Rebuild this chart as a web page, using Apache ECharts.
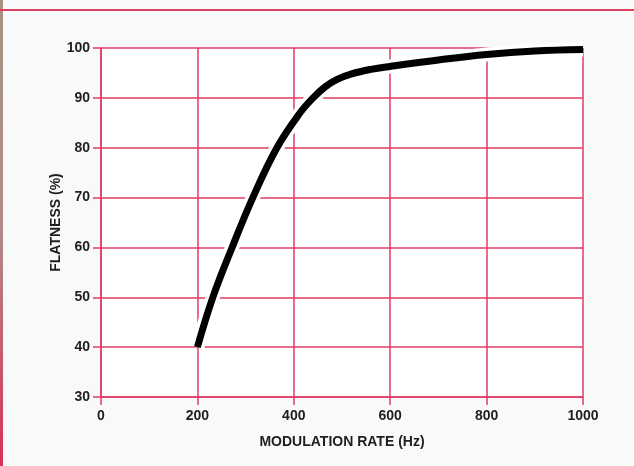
<!DOCTYPE html>
<html>
<head>
<meta charset="utf-8">
<script src="https://cdn.jsdelivr.net/npm/echarts@6/dist/echarts.min.js"></script>
<style>
html,body{margin:0;padding:0;background:#f7f8f8;}
#c{width:634px;height:466px;}
</style>
</head>
<body>
<div id="c"></div>
<script>
// Data
const rateHz = [200, 232, 272, 315, 365, 413, 440, 465, 490, 520, 560, 600, 700, 800, 900, 1000];
const flatnessPct = [40, 50, 60, 70, 80, 87, 90, 92.2, 93.7, 94.8, 95.7, 96.3, 97.6, 98.7, 99.4, 99.7];
const xTicks = [0, 200, 400, 600, 800, 1000];
const yTicks = [30, 40, 50, 60, 70, 80, 90, 100];
const xTitle = 'MODULATION RATE (Hz)';
const yTitle = 'FLATNESS (%)';

const RED = '#e03c64';
const TXT = '#1e1e1e';
const FONT = '"Liberation Sans", Arial, sans-serif';
const points = rateHz.map((x, i) => [x, flatnessPct[i]]);

const chart = echarts.init(document.getElementById('c'), null, {renderer: 'canvas'});
chart.setOption({
  backgroundColor: '#f8f9f9',
  animation: false,
  graphic: [
    {type: 'rect', left: 0, top: 0, shape: {width: 3, height: 466}, style: {fill: new echarts.graphic.LinearGradient(0,0,0,1,[{offset:0,color:'#a89080'},{offset:0.5,color:'#b08a8a'},{offset:1,color:'#d8305a'}])}, z: 10},
    {type: 'rect', left: 0, top: 9, shape: {width: 634, height: 2}, style: {fill: '#d8405e'}, z: 10},
    {type: 'rect', left: 101, top: 48, shape: {width: 482, height: 349}, style: {fill: '#ffffff'}, z: -1}
  ],
  grid: {left: 101, right: 51, top: 48, bottom: 69, containLabel: false},
  xAxis: {
    type: 'value', min: xTicks[0], max: xTicks[xTicks.length - 1], interval: 200,
    name: xTitle, nameLocation: 'middle', nameGap: 38, nameMoveOverlap: false,
    nameTextStyle: {fontFamily: FONT, fontWeight: 'bold', fontSize: 14, color: TXT},
    axisLine: {show: true, lineStyle: {color: RED, width: 1.5}},
    axisTick: {show: true, length: 8, lineStyle: {color: RED, width: 1.5}},
    axisLabel: {fontFamily: FONT, fontWeight: 'bold', fontSize: 14, color: TXT, margin: 12, formatter: v => String(v)},
    splitLine: {show: true, lineStyle: {color: RED, width: 1.5}}
  },
  yAxis: {
    type: 'value', min: yTicks[0], max: yTicks[yTicks.length - 1], interval: 10,
    name: yTitle, nameLocation: 'middle', nameGap: 38, nameRotate: 90, nameMoveOverlap: false,
    nameTextStyle: {fontFamily: FONT, fontWeight: 'bold', fontSize: 14, color: TXT},
    axisLine: {show: true, lineStyle: {color: RED, width: 1.5}},
    axisTick: {show: true, length: 8, lineStyle: {color: RED, width: 1.5}},
    axisLabel: {fontFamily: FONT, fontWeight: 'bold', fontSize: 14, color: TXT, margin: 11, formatter: v => String(v)},
    splitLine: {show: true, lineStyle: {color: RED, width: 1.5}}
  },
  series: [
    {
      type: 'line', data: points, smooth: 0.4, symbol: 'none', silent: true,
      lineStyle: {color: '#ffffff', width: 14, cap: 'butt'}, z: 5
    },
    {
      type: 'line', data: points, smooth: 0.4, symbol: 'none',
      lineStyle: {color: '#000000', width: 7, cap: 'butt'}, z: 6
    }
  ]
});
</script>
</body>
</html>
